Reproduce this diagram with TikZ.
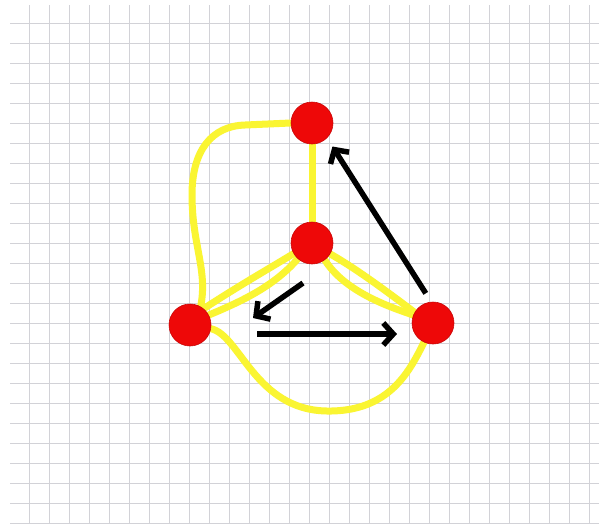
\documentclass[tikz,border=0pt]{standalone}
\usetikzlibrary{arrows.meta}
\definecolor{gridc}{RGB}{210,210,215}
\definecolor{yel}{RGB}{250,245,50}
\definecolor{dotred}{RGB}{238,8,8}
\pgfdeclarelayer{bg}
\pgfsetlayers{bg,main}
\begin{document}
\begin{tikzpicture}[x=1pt,y=-1pt,
  dot/.style={circle,fill=dotred,draw=dotred!85!black,line width=0.6pt,minimum size=42pt,inner sep=0pt},
  yedge/.style={draw=yel,line width=7pt,line cap=round},
  arr/.style={draw=black,line width=5.5pt,-{Straight Barb[length=10pt,width=22pt]}},
  gridline/.style={draw=gridc,line width=1pt}]
\useasboundingbox (0,0) rectangle (599,523);
% nodes
\node[dot] (T) at (312,123) {};
\node[dot] (M) at (312,243) {};
\node[dot] (L) at (190,325) {};
\node[dot] (R) at (433,323) {};
\coordinate (s2) at (303,283);
\coordinate (e2) at (253,318);
\coordinate (s3) at (257,334);
\coordinate (e3) at (397,334);
\begin{pgfonlayer}{bg}
  \fill[white] (0,0) rectangle (599,523);
  \foreach \y in {23,43,...,523} \draw[gridline] (10,\y) -- (599,\y);
  \foreach \x in {29,49,...,589} \draw[gridline] (\x,5) -- (\x,523);
  % yellow edges
  \draw[yedge] (T.south) -- (M.north);
  \draw[yedge] (T.west) -- (245,125) .. controls (212,126) and (192,150) .. (192,195)
                        .. controls (192,245) and (208,270) .. (L.60);
  \draw[yedge] (M.210) .. controls (270,268) and (240,285) .. (L.50);
  \draw[yedge] (M.228) .. controls (275,285) and (245,300) .. (L.28);
  \draw[yedge] (M.-31) .. controls (355,268) and (385,290) .. (R.150);
  \draw[yedge] (M.-53) .. controls (345,292) and (390,307) .. (R.158);
  \draw[yedge] (L.-10) .. controls (240,335) and (255,410) .. (327,411)
                       .. controls (390,412) and (410,370) .. (R.-115);
\end{pgfonlayer}
% black arrows
\draw[arr,shorten <=10pt,shorten >=10pt] (R.95) -- (T.-45);
\draw[arr] (s2) -- (e2);
\draw[arr] (s3) -- (e3);
\end{tikzpicture}
\end{document}
